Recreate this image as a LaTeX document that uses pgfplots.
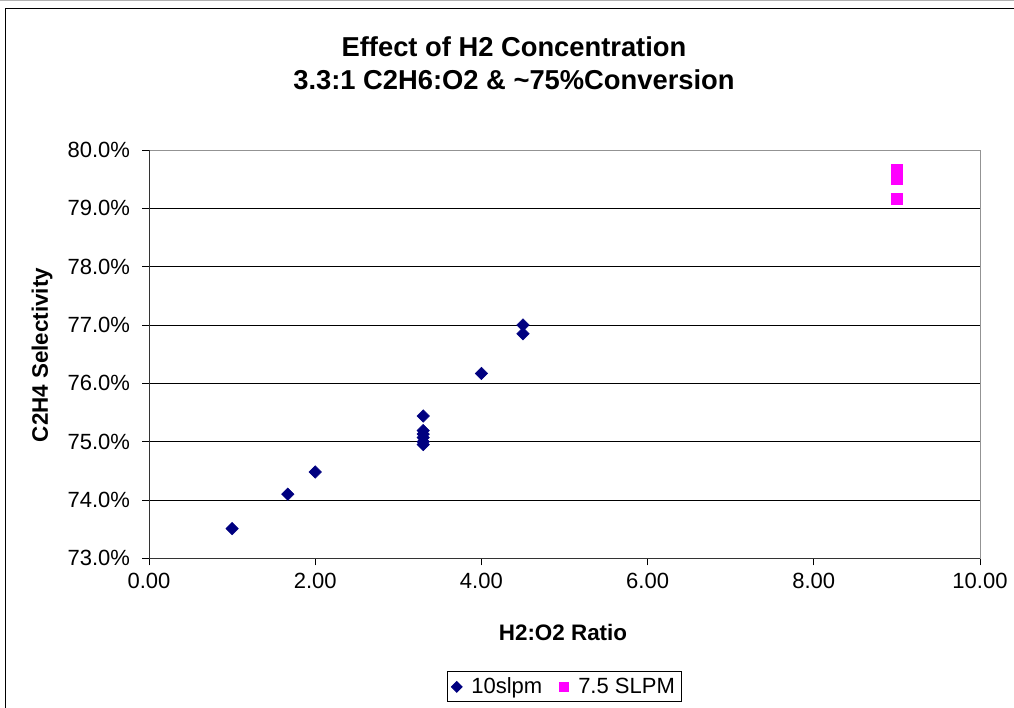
\documentclass[border=0pt]{standalone}
\usepackage{pgfplots}
\pgfplotsset{compat=1.18}
\usepackage{fontspec}
\setmainfont{Liberation Sans}
\definecolor{navy}{HTML}{000080}
\definecolor{mag}{HTML}{FF00FF}
\begin{document}
\begin{tikzpicture}[x=1pt,y=1pt]
\useasboundingbox (0,0) rectangle (760.5,530.25);
\draw[gray!60,line width=0.75pt] (0,529.9) -- (760.5,529.9);
\draw[black,line width=0.75pt] (3.75,523.5) rectangle (800,-20);
\begin{axis}[
  at={(111.75pt,111.5pt)}, anchor=south west,
  scale only axis, width=623.25pt, height=306.2pt,
  xmin=0, xmax=10, ymin=73, ymax=80,
  xtick={0,2,4,6,8,10},
  xticklabels={0.00,2.00,4.00,6.00,8.00,10.00},
  ytick={73,74,75,76,77,78,79,80},
  yticklabels={73.0\%,74.0\%,75.0\%,76.0\%,77.0\%,78.0\%,79.0\%,80.0\%},
  tick align=outside, major tick length=5.25pt,
  xtick pos=bottom, ytick pos=left,
  tick style={black, line width=0.75pt},
  ymajorgrids, grid style={black, line width=0.75pt},
  axis line style={draw=gray!85, line width=0.75pt},
  ticklabel style={font=\fontsize{16.5}{19}\selectfont},
  yticklabel style={xshift=-5.5pt},
  xticklabel style={yshift=-2.5pt},
  legend style={at={(0.5,-0.315)}, anchor=center, draw=black, line width=0.75pt,
    font=\fontsize{16.5}{19}\selectfont, inner xsep=3pt, inner ysep=2.5pt,
    /tikz/every odd column/.append style={column sep=5pt},
    /tikz/every even column/.append style={column sep=11pt}},
  legend image post style={scale=0.85},
  legend columns=2,
  clip=false,
]
\addplot[only marks, mark=square*, mark size=3.3pt, color=navy,
  mark options={rotate=45, fill=navy, draw=navy}] coordinates {
  (1.0,73.51) (1.67,74.10) (2.0,74.48) (3.3,75.44)
  (3.3,75.19) (3.3,75.13) (3.3,75.07) (3.3,75.00) (3.3,74.95)
  (4.0,76.17) (4.5,77.00) (4.5,76.85)
};
\addlegendentry{10slpm}
\addplot[only marks, mark=square*, mark size=4.1pt, color=mag,
  mark options={fill=mag, draw=mag}] coordinates {
  (9.0,79.67) (9.0,79.58) (9.0,79.50) (9.0,79.16)
};
\addlegendentry{7.5 SLPM}
\draw[black!80, line width=0.75pt] (rel axis cs:0,1) -- (rel axis cs:0,0) -- (rel axis cs:1,0);
\end{axis}
\node[font=\bfseries\fontsize{20.5}{24}\selectfont] at (385.5,495) {Effect of H2 Concentration};
\node[font=\bfseries\fontsize{20.5}{24}\selectfont] at (385.5,470.25) {3.3:1 C2H6:O2 \& \textasciitilde75\%Conversion};
\node[font=\bfseries\fontsize{16.8}{20}\selectfont, rotate=90] at (31.5,264) {C2H4 Selectivity};
\node[font=\bfseries\fontsize{16.8}{20}\selectfont] at (422.25,56.25) {H2:O2 Ratio};
\end{tikzpicture}
\end{document}
